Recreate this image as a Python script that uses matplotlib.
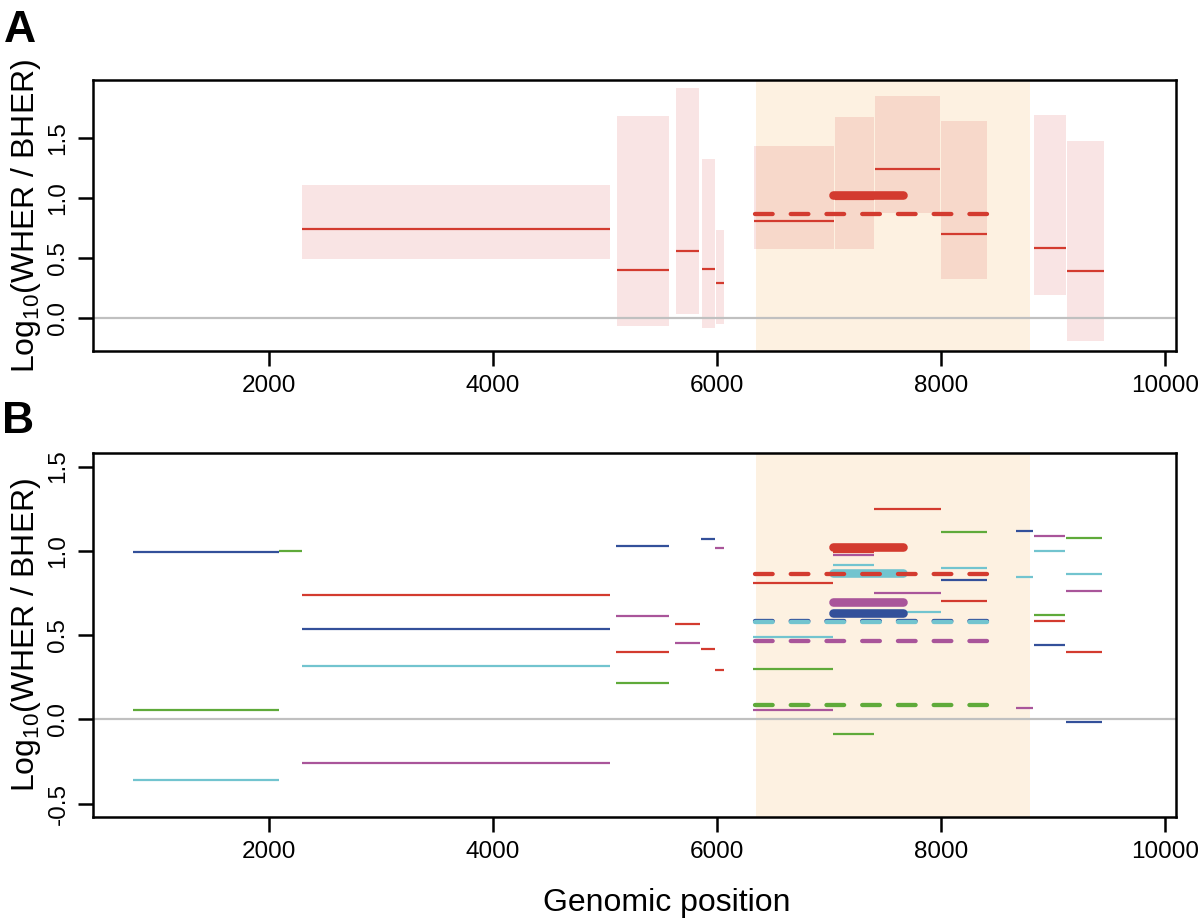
import matplotlib
matplotlib.use('Agg')
import matplotlib.pyplot as plt
from matplotlib.patches import Rectangle

plt.rcParams['font.family'] = ['Liberation Sans', 'DejaVu Sans']
plt.rcParams['mathtext.default'] = 'regular'

# ---------------- data ----------------
# Panel A: windows with estimate (mid) and interval (low/high)
a_start = [2300, 5110, 5640, 5870, 5990, 6330, 7053, 7410, 8000, 8834, 9126]
a_end = [5045, 5570, 5845, 5985, 6060, 7045, 7403, 7995, 8408, 9119, 9453]
a_low = [0.49, -0.07, 0.03, -0.08, -0.05, 0.57, 0.57, 0.87, 0.32, 0.19, -0.19]
a_high = [1.11, 1.68, 1.91, 1.325, 0.73, 1.43, 1.675, 1.85, 1.64, 1.69, 1.47]
a_mid = [0.74, 0.40, 0.56, 0.41, 0.29, 0.81, 0.99, 1.24, 0.70, 0.58, 0.39]

# Panel B: windows
win_start = [790, 2090, 2300, 5100, 5630, 5860, 5985, 6320, 7040, 7400, 8000, 8670, 8830, 9120]
win_end = [2090, 2300, 5045, 5570, 5850, 5985, 6060, 7040, 7400, 8000, 8410, 8820, 9110, 9440]

blue_vals = [0.994, None, 0.534, 1.026, None, 1.07, None, None, None, None, 0.827, 1.12, 0.44, -0.016]
cyan_vals = [-0.36, None, 0.315, None, None, None, None, 0.49, 0.918, 0.635, 0.90, 0.845, 0.996, 0.861]
green_vals = [0.055, 1.0, None, 0.214, None, None, None, 0.30, -0.087, None, 1.111, None, 0.62, 1.077]
magenta_vals = [None, None, -0.26, 0.613, 0.45, None, 1.016, 0.058, 0.972, 0.748, None, 0.064, 1.09, 0.76]
red_vals = [None, None, 0.74, 0.40, 0.564, 0.418, 0.29, 0.81, 0.99, 1.245, 0.70, None, 0.583, 0.397]

# summary over region of interest
thick_range = (7040, 7660)
thick_vals = {'cyan': 0.866, 'red': 1.02, 'magenta': 0.697, 'blue': 0.629}
dash_range = (6340, 8410)
dash_vals = {'red': 0.863, 'blue': 0.585, 'cyan': 0.575, 'magenta': 0.466, 'green': 0.085}

region = (6350, 8800)
xticks = [2000, 4000, 6000, 8000, 10000]
yticks_a = [0.0, 0.5, 1.0, 1.5]
yticks_b = [-0.5, 0.0, 0.5, 1.0, 1.5]

# ---------------- style ----------------
colors = {'red': '#d33b2f', 'blue': '#33509a', 'cyan': '#72c4cf',
          'green': '#5faa3a', 'magenta': '#a9559a'}
shade = '#fdf1e1'
box_color = (0.86, 0.30, 0.30)
thin_lw = 1.6
thick_lw = 6.2
dash_lw = 3.1
dash_pat = (0, (4.1, 4.2))

fig = plt.figure(figsize=(12, 9.21), dpi=100)
axA = fig.add_axes([0.0775, 0.6189, 0.9025, 0.2942])
axB = fig.add_axes([0.0775, 0.1129, 0.9025, 0.3952])

for ax, ylim, yt in [(axA, (-0.275, 1.98), yticks_a), (axB, (-0.58, 1.58), yticks_b)]:
    ax.set_xlim(430, 10100)
    ax.set_ylim(*ylim)
    ax.axvspan(region[0], region[1], color=shade, zorder=0, lw=0)
    ax.axhline(0, color='#c0c0c0', lw=1.6, zorder=3)
    ax.set_xticks(xticks)
    ax.set_xticklabels([str(v) for v in xticks])
    ax.set_yticks(yt)
    ax.set_yticklabels(['%.1f' % v for v in yt], rotation=90, va='center')
    ax.tick_params(axis='both', direction='out', length=11, width=1.8,
                   labelsize=17.5, pad=6, color='black')
    for s in ax.spines.values():
        s.set_linewidth(1.8)
        s.set_zorder(10)
    ax.set_ylabel('Log$_{10}$(WHER / BHER)', fontsize=23, va='center')
    ax.yaxis.set_label_coords(-0.0615, 0.5)

# ---- Panel A ----
for s, e, lo, hi in zip(a_start, a_end, a_low, a_high):
    axA.add_patch(Rectangle((s, lo), e - s, hi - lo, facecolor=box_color,
                            alpha=0.15, lw=0, zorder=1))
for s, e, m in zip(a_start, a_end, a_mid):
    axA.plot([s, e], [m, m], color=colors['red'], lw=thin_lw,
             solid_capstyle='butt', zorder=4)
axA.plot(thick_range, [thick_vals['red']] * 2, color=colors['red'], lw=thick_lw,
         solid_capstyle='round', zorder=5)
axA.plot(dash_range, [dash_vals['red']] * 2, color=colors['red'], lw=dash_lw,
         linestyle=dash_pat, dash_capstyle='round', zorder=6)

# ---- Panel B ----
series = [('blue', blue_vals), ('cyan', cyan_vals), ('green', green_vals),
          ('magenta', magenta_vals), ('red', red_vals)]
for name, vals in series:
    for s, e, v in zip(win_start, win_end, vals):
        if v is None:
            continue
        axB.plot([s, e], [v, v], color=colors[name], lw=thin_lw,
                 solid_capstyle='butt', zorder=4)
for name, v in thick_vals.items():
    axB.plot(thick_range, [v, v], color=colors[name], lw=thick_lw,
             solid_capstyle='round', zorder=5)
for name, v in dash_vals.items():
    axB.plot(dash_range, [v, v], color=colors[name], lw=dash_lw,
             linestyle=dash_pat, dash_capstyle='round', zorder=6)

fig.text(667 / 1200, 1 - 903 / 921, 'Genomic position', fontsize=23,
         ha='center', va='center')
fig.text(4 / 1200, 1 - 10 / 921, 'A', fontsize=32, fontweight='bold', va='top', ha='left')
fig.text(2 / 1200, 1 - 401 / 921, 'B', fontsize=32, fontweight='bold', va='top', ha='left')

fig.savefig('out.png', dpi=100)
